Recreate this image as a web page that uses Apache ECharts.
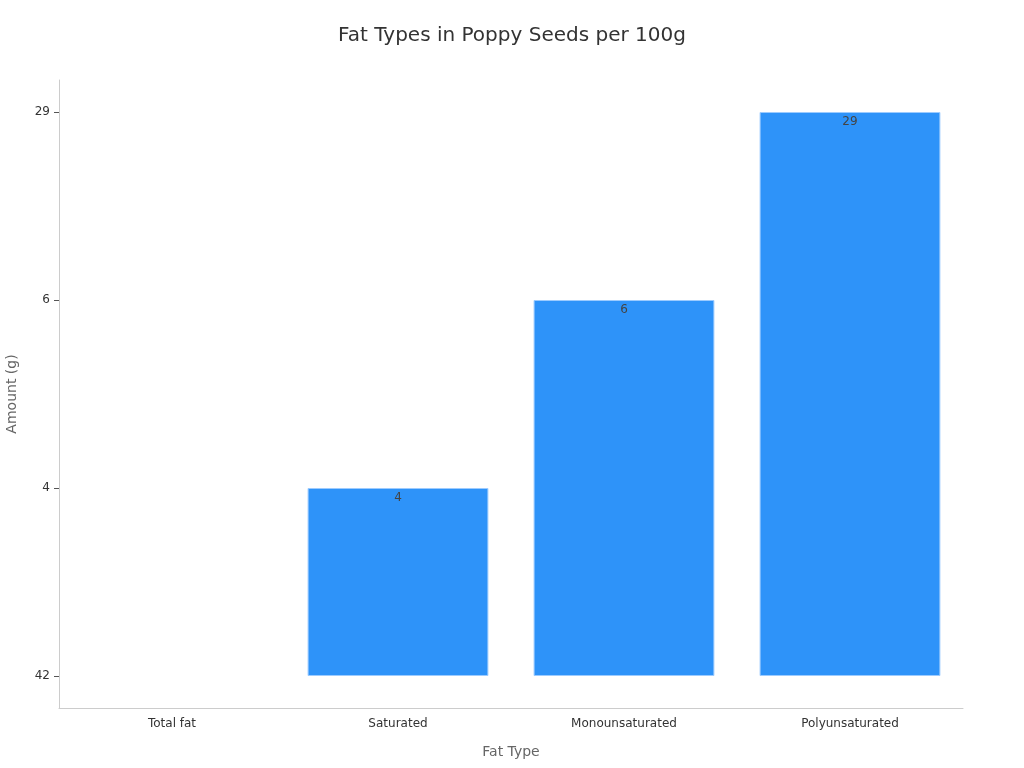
<!DOCTYPE html>
<html><head><meta charset="utf-8">
<script src="https://cdn.jsdelivr.net/npm/echarts@6/dist/echarts.min.js"></script>
<style>html,body{margin:0;padding:0;background:#fff}#c{width:1024px;height:768px}</style>
</head><body><div id="c"></div>
<script>
const categories = ['Total fat', 'Saturated', 'Monounsaturated', 'Polyunsaturated'];
const amounts = ['42', '4', '6', '29'];
const yTickLabels = ['42', '4', '6', '29'];

const font = 'DejaVu Sans';
const chart = echarts.init(document.getElementById('c'));
chart.setOption({
  animation: false,
  title: { text: 'Fat Types in Poppy Seeds per 100g', left: 'center', top: 21,
    textStyle: { fontFamily: font, fontSize: 20, fontWeight: 'normal', color: '#333' } },
  grid: [
    { left: 59, right: 61, top: 112, bottom: 92, containLabel: false, outerBoundsMode: 'none' },
    { left: 59, right: 61, top: 80, bottom: 60, containLabel: false, outerBoundsMode: 'none' }
  ],
  xAxis: [
    { type: 'category', data: categories, gridIndex: 0, offset: 32,
      name: 'Fat Type', nameLocation: 'middle', nameGap: 37,
      nameTextStyle: { fontFamily: font, fontSize: 14, color: '#666' },
      axisLine: { lineStyle: { color: '#ccc' } },
      axisTick: { alignWithLabel: true, lineStyle: { color: '#999' } },
      axisLabel: { fontFamily: font, fontSize: 12, color: '#333', margin: 10 } },
    { type: 'category', data: categories, gridIndex: 1, show: false }
  ],
  yAxis: [
    { type: 'category', data: yTickLabels, boundaryGap: false, gridIndex: 0,
      name: 'Amount (g)', nameLocation: 'middle', nameGap: 40,
      nameTextStyle: { fontFamily: font, fontSize: 14, color: '#666' },
      axisLine: { show: false },
      axisTick: { show: true, length: 5, lineStyle: { color: '#555' } },
      splitLine: { show: false },
      axisLabel: { fontFamily: font, fontSize: 12, color: '#333', margin: 9 } },
    { type: 'value', gridIndex: 1,
      axisLine: { show: true, lineStyle: { color: '#ccc' } },
      axisTick: { show: false }, axisLabel: { show: false }, splitLine: { show: false } }
  ],
  series: [{ type: 'bar', xAxisIndex: 0, yAxisIndex: 0, barWidth: '80%',
    data: amounts.map((v, i) => i === 0 ? { value: v, itemStyle: { borderWidth: 0 }, label: { show: false } } : v),
    itemStyle: { color: '#2e93f9', borderColor: '#9ccbff', borderWidth: 1 },
    label: { show: true, position: 'insideTop', distance: 4,
      formatter: p => amounts[p.dataIndex],
      fontFamily: font, fontSize: 12, color: '#444' } }]
});
</script></body></html>
